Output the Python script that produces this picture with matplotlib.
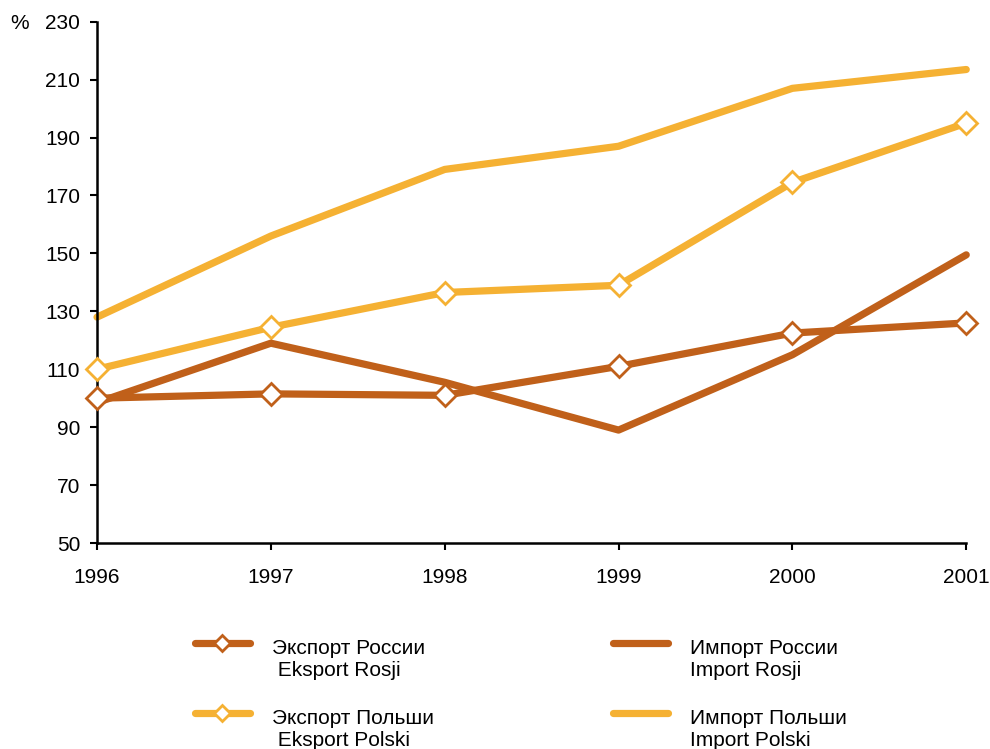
import numpy as np
import matplotlib.pyplot as plt
from matplotlib.lines import Line2D
from matplotlib.legend_handler import HandlerLine2D

plt.rcParams['font.family'] = ['Liberation Sans', 'DejaVu Sans']

years = [1996, 1997, 1998, 1999, 2000, 2001]
export_ru = [100, 101.5, 101, 111, 122.5, 126]
import_ru = [98.5, 119, 105.5, 89, 115, 149.5]
export_pl = [110, 124.5, 136.5, 139, 174.5, 195]
import_pl = [128, 156, 179, 187, 207, 213.5]

dark = '#C0601A'
light = '#F5B133'
fs = 15


class UpHandler(HandlerLine2D):
    # legend line sits level with the first line of the two-line label
    def create_artists(self, legend, orig_handle, xdescent, ydescent,
                       width, height, fontsize, trans):
        arts = super().create_artists(legend, orig_handle, xdescent, ydescent,
                                      width, height, fontsize, trans)
        for a in arts:
            a.set_ydata(np.asarray(a.get_ydata()) + 0.8 * fontsize)
        return arts


fig = plt.figure(figsize=(9.9, 7.49), dpi=100)
ax = fig.add_axes([0.098, 0.275, 0.878, 0.696])

lw = 5.2
ax.plot(years, import_pl, color=light, lw=lw, solid_capstyle='round',
        zorder=2, clip_on=False)
ax.plot(years, export_pl, color=light, lw=lw, solid_capstyle='round',
        marker='D', ms=11, mfc='white', mec=light, mew=2, zorder=3, clip_on=False)
ax.plot(years, import_ru, color=dark, lw=lw, solid_capstyle='round',
        zorder=4, clip_on=False)
ax.plot(years, export_ru, color=dark, lw=lw, solid_capstyle='round',
        marker='D', ms=11, mfc='white', mec=dark, mew=2, zorder=5, clip_on=False)

ax.set_xlim(1996, 2001)
ax.set_ylim(50, 230)
ax.set_yticks(range(50, 231, 20))
ax.set_xticks(years)
for s in ['top', 'right']:
    ax.spines[s].set_visible(False)
for s in ['left', 'bottom']:
    ax.spines[s].set_linewidth(1.8)
ax.tick_params(axis='both', labelsize=fs, width=1.5, length=5, direction='out')
ax.tick_params(axis='x', pad=13)
ax.tick_params(axis='y', pad=7)

fig.text(0.010, 0.968, '%', fontsize=fs, va='center')

handles = [
    Line2D([], [], color=dark, lw=lw, solid_capstyle='round', marker='D', ms=8.5,
           mfc='white', mec=dark, mew=2),
    Line2D([], [], color=light, lw=lw, solid_capstyle='round', marker='D', ms=8.5,
           mfc='white', mec=light, mew=2),
    Line2D([], [], color=dark, lw=lw, solid_capstyle='round'),
    Line2D([], [], color=light, lw=lw, solid_capstyle='round'),
]
labels = [
    'Экспорт России\n Eksport Rosji',
    'Экспорт Польши\n Eksport Polski',
    'Импорт России\nImport Rosji',
    'Импорт Польши\nImport Polski',
]
fig.legend(handles, labels, ncol=2, frameon=False, fontsize=fs,
           loc='center', bbox_to_anchor=(0.526, 0.0725),
           handlelength=2.65, handletextpad=1.05, columnspacing=8.6,
           labelspacing=1.4, handler_map={Line2D: UpHandler()})

fig.savefig('out.png', dpi=100)
